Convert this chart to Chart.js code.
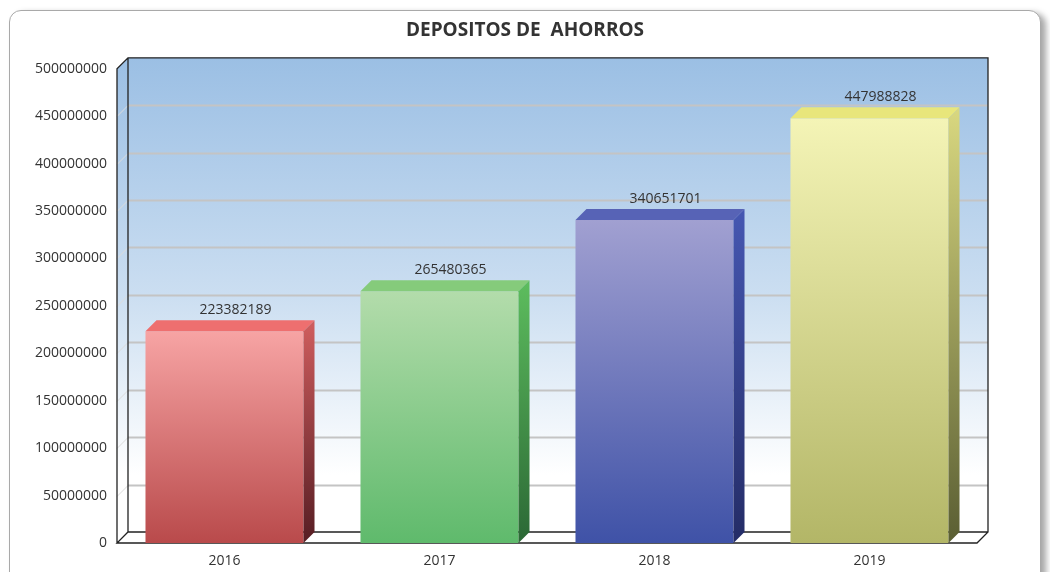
<!DOCTYPE html>
<html>
<head>
<meta charset="utf-8">
<script src="https://cdn.jsdelivr.net/npm/chart.js@4.4.1/dist/chart.umd.min.js"></script>
<style>
  html, body { margin: 0; padding: 0; background: #fff; }
  #wrap { position: relative; width: 1050px; height: 572px; overflow: hidden; }
  .card {
    position: absolute; left: 9px; top: 10px; width: 1030px; height: 620px;
    border: 1px solid #a9a9a9; border-radius: 12px; background: #fff;
    box-shadow: 5px 3px 6px rgba(0, 0, 0, 0.35);
  }
  canvas { position: absolute; left: 0; top: 0; }
</style>
</head>
<body>
<div id="wrap">
  <div class="card"></div>
  <canvas id="chart" width="1050" height="572"></canvas>
</div>
<script>
const years = ['2016', '2017', '2018', '2019'];
const deposits = [223382189, 265480365, 340651701, 447988828];
const yMax = 500000000;
const yStep = 50000000;

// face colours per bar
const frontTop    = ['#f7a4a4', '#b3dcab', '#a1a0d1', '#f4f4b6'];
const frontBottom = ['#b94a4b', '#5fba6c', '#3f52a7', '#b3b667'];
const topFace     = ['#ee6f6f', '#85cb7b', '#5763b6', '#e8e67b'];
const sideTop     = ['#d05e5e', '#5dbd5e', '#4657b2', '#d9d880'];
const sideBottom  = ['#561d23', '#2b6835', '#242c66', '#5a5e33'];

const DX = 11, DY = 11;

Chart.defaults.font.family = "'Open Sans', sans-serif";
Chart.defaults.font.size = 14;
Chart.defaults.color = '#333';

const box3d = {
  id: 'box3d',
  beforeDatasetsDraw(chart) {
    const { ctx, chartArea: a, scales: { y } } = chart;
    ctx.save();
    const g = ctx.createLinearGradient(0, a.top - DY, 0, a.bottom - DY);
    g.addColorStop(0, '#9bbfe4');
    g.addColorStop(0.5, '#cbdef1');
    g.addColorStop(0.88, '#ffffff');
    g.addColorStop(1, '#ffffff');
    ctx.fillStyle = g;
    // back wall
    ctx.fillRect(a.left + DX, a.top - DY, a.width, a.height);
    // left wall
    ctx.beginPath();
    ctx.moveTo(a.left, a.top);
    ctx.lineTo(a.left + DX, a.top - DY);
    ctx.lineTo(a.left + DX, a.bottom - DY);
    ctx.lineTo(a.left, a.bottom);
    ctx.closePath();
    ctx.fill();

    // grid lines on back and left wall
    y.ticks.forEach(t => {
      if (t.value <= 0 || t.value >= yMax) return;
      const py = Math.round(y.getPixelForValue(t.value)) + 0.5;
      ctx.strokeStyle = '#c4c4c4';
      ctx.lineWidth = 2;
      ctx.beginPath();
      ctx.moveTo(a.left + DX, py - DY);
      ctx.lineTo(a.right + DX, py - DY);
      ctx.stroke();
      ctx.strokeStyle = '#dcdcdc';
      ctx.lineWidth = 1;
      ctx.beginPath();
      ctx.moveTo(a.left, py);
      ctx.lineTo(a.left + DX, py - DY);
      ctx.stroke();
    });

    // box outlines
    ctx.strokeStyle = '#222';
    ctx.lineWidth = 1.3;
    ctx.beginPath();
    ctx.moveTo(a.left, a.bottom);
    ctx.lineTo(a.left, a.top);
    ctx.lineTo(a.left + DX, a.top - DY);
    ctx.lineTo(a.right + DX, a.top - DY);
    ctx.lineTo(a.right + DX, a.bottom - DY);
    ctx.lineTo(a.right, a.bottom);
    ctx.lineTo(a.left, a.bottom);
    ctx.lineTo(a.left + DX, a.bottom - DY);
    ctx.lineTo(a.right + DX, a.bottom - DY);
    ctx.moveTo(a.left + DX, a.top - DY);
    ctx.lineTo(a.left + DX, a.bottom - DY);
    ctx.stroke();
    ctx.restore();
  },
  afterDatasetsDraw(chart) {
    const { ctx } = chart;
    const meta = chart.getDatasetMeta(0);
    ctx.save();
    meta.data.forEach((bar, i) => {
      const { x, y, width, base } = bar.getProps(['x', 'y', 'width', 'base'], true);
      const l = x - width / 2, r = x + width / 2;
      // top face
      ctx.fillStyle = topFace[i];
      ctx.beginPath();
      ctx.moveTo(l, y);
      ctx.lineTo(l + DX, y - DY);
      ctx.lineTo(r + DX, y - DY);
      ctx.lineTo(r, y);
      ctx.closePath();
      ctx.fill();
      // side face
      const sg = ctx.createLinearGradient(0, y - DY, 0, base);
      sg.addColorStop(0, sideTop[i]);
      sg.addColorStop(1, sideBottom[i]);
      ctx.fillStyle = sg;
      ctx.beginPath();
      ctx.moveTo(r, y);
      ctx.lineTo(r + DX, y - DY);
      ctx.lineTo(r + DX, base - DY);
      ctx.lineTo(r, base);
      ctx.closePath();
      ctx.fill();
      // value label
      ctx.fillStyle = '#333';
      ctx.font = "14px 'Open Sans', sans-serif";
      ctx.textAlign = 'center';
      ctx.textBaseline = 'middle';
      ctx.fillText(String(deposits[i]), x + DX, y - DY - 10);
    });
    ctx.restore();
  }
};

function frontGradient(c) {
  const ch = c.chart, y = ch.scales.y;
  const i = c.dataIndex;
  if (!ch.chartArea || !y) return frontBottom[i];
  const top = y.getPixelForValue(deposits[i]);
  const g = ch.ctx.createLinearGradient(0, top, 0, y.getPixelForValue(0));
  g.addColorStop(0, frontTop[i]);
  g.addColorStop(1, frontBottom[i]);
  return g;
}

new Chart(document.getElementById('chart'), {
  type: 'bar',
  data: {
    labels: years,
    datasets: [{
      data: deposits,
      backgroundColor: frontGradient,
      borderWidth: 0,
      categoryPercentage: 1,
      barPercentage: 0.735
    }]
  },
  options: {
    responsive: false,
    animation: false,
    devicePixelRatio: 1,
    layout: { padding: 0 },
    plugins: {
      legend: { display: false },
      tooltip: { enabled: false },
      title: {
        display: true,
        text: 'DEPOSITOS DE  AHORROS',
        color: '#333',
        font: { size: 19, weight: 'bold' },
        padding: { top: 19, bottom: 27 }
      }
    },
    scales: {
      x: {
        grid: { display: false, drawTicks: false },
        border: { display: false },
        ticks: { padding: 10 },
        afterFit: s => { s.height = 29; }
      },
      y: {
        min: 0,
        max: yMax,
        grid: { display: false, drawTicks: false },
        border: { display: false },
        ticks: { stepSize: yStep, padding: 10, callback: v => String(v) },
        afterFit: s => { s.width = 117; }
      },
      // empty right-hand axis, only reserves the space right of the box
      yRight: {
        position: 'right',
        min: 0,
        max: yMax,
        grid: { display: false, drawTicks: false },
        border: { display: false },
        ticks: { display: false },
        afterFit: s => { s.width = 73; }
      }
    }
  },
  plugins: [box3d]
});
</script>
</body>
</html>
